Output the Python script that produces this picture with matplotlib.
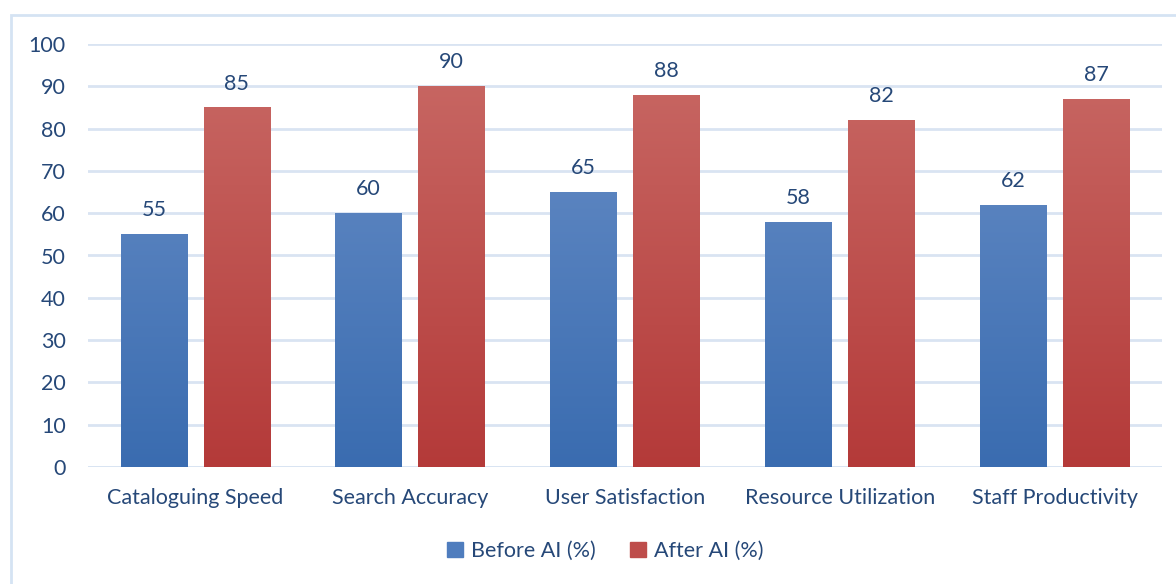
import numpy as np
import matplotlib.pyplot as plt
from matplotlib.patches import Rectangle
from matplotlib.colors import LinearSegmentedColormap

categories = ['Cataloguing Speed', 'Search Accuracy', 'User Satisfaction',
              'Resource Utilization', 'Staff Productivity']
before_ai = [55, 60, 65, 58, 62]
after_ai = [85, 90, 88, 82, 87]
series_names = ['Before AI (%)', 'After AI (%)']

text_color = '#264878'
grid_color = '#D9E4F2'
blue_top, blue_bottom = '#6B90C8', '#3A6CB0'
red_top, red_bottom = '#C96A66', '#B43A39'

plt.rcParams['font.family'] = ['Lato', 'DejaVu Sans']
fs = 15.5

fig = plt.figure(figsize=(11.76, 5.84), dpi=100)
ax = fig.add_axes([88 / 1176, 1 - 467 / 584, 1074 / 1176, 423 / 584])

# chart border like the office frame
fig.patches.append(Rectangle((11 / 1176, -0.1), 1.2, (584 - 15) / 584 + 0.1,
                             transform=fig.transFigure, fill=False,
                             edgecolor='#D5E3F3', linewidth=2))

x = np.arange(len(categories))
w = 0.31
off = 0.193


def gradient_bars(bars, top, bottom):
    cmap = LinearSegmentedColormap.from_list('g', [bottom, top])
    grad = np.linspace(0, 1, 256).reshape(-1, 1)
    for b in bars:
        x0 = b.get_x()
        im = ax.imshow(grad, cmap=cmap, origin='lower', aspect='auto',
                       extent=[x0, x0 + b.get_width(), 0, 100], zorder=3)
        im.set_clip_path(b)
        b.set_facecolor('none')


b1 = ax.bar(x - off, before_ai, w, color=blue_bottom, linewidth=0, zorder=3,
            label=series_names[0])
b2 = ax.bar(x + off, after_ai, w, color=red_bottom, linewidth=0, zorder=3,
            label=series_names[1])
gradient_bars(b1, blue_top, blue_bottom)
gradient_bars(b2, red_top, red_bottom)

for bars in (b1, b2):
    ax.bar_label(bars, padding=10, fontsize=fs, color=text_color)

ax.set_xlim(-0.5, len(categories) - 0.5)
ax.set_ylim(0, 100)
ax.set_yticks(range(0, 101, 10))
ax.set_xticks(x)
ax.set_xticklabels(categories)
ax.tick_params(axis='both', length=0, labelsize=fs, labelcolor=text_color)
ax.tick_params(axis='y', pad=16)
ax.tick_params(axis='x', pad=15)
ax.grid(axis='y', color=grid_color, linewidth=2, zorder=0)
ax.set_axisbelow(True)
for s in ax.spines.values():
    s.set_visible(False)
ax.axhline(0, color=grid_color, linewidth=2, zorder=1)

handles = [Rectangle((0, 0), 1, 1, color='#4F7DBE'),
           Rectangle((0, 0), 1, 1, color='#BE4D4B')]
fig.legend(handles, series_names, loc='center', bbox_to_anchor=(605 / 1176, 1 - 551 / 584),
           ncol=2, frameon=False, fontsize=fs, labelcolor=text_color,
           handlelength=0.75, handleheight=0.75, handletextpad=0.35, columnspacing=1.6)

fig.savefig('out.png', dpi=100)
